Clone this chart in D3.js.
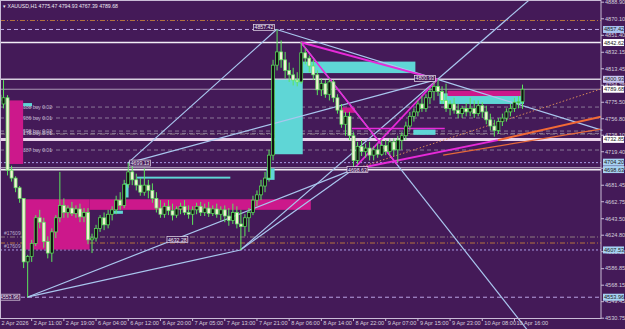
<!DOCTYPE html>
<html>
<head>
<meta charset="utf-8">
<script src="https://cdn.jsdelivr.net/npm/d3@7"></script>
<style>
body { margin: 0; background: #441a58; }
svg { display: block; }
text { font-family: "Liberation Sans", Arial, sans-serif; }
</style>
</head>
<body>
<svg width="625" height="329"></svg>
<script>
// time axis labels, one every 8 bars
var timeLabels = ["2 Apr 2026", "2 Apr 11:00", "2 Apr 19:00", "6 Apr 04:00", "6 Apr 12:00", "6 Apr 20:00",
  "7 Apr 05:00", "7 Apr 13:00", "7 Apr 21:00", "8 Apr 06:00", "8 Apr 14:00", "8 Apr 22:00",
  "9 Apr 07:00", "9 Apr 15:00", "9 Apr 23:00", "10 Apr 08:00", "10 Apr 16:00"];
var priceTicks = [4888.90, 4870.10, 4851.40, 4832.15, 4813.45, 4794.75, 4775.50, 4756.80, 4738.10, 4719.40,
  4700.70, 4681.45, 4662.75, 4643.50, 4624.80, 4606.10, 4586.85, 4568.15, 4549.45, 4530.75];

// XAUUSD H1 bars
var opens = [4783, 4773, 4780, 4698, 4689, 4678, 4666, 4594, 4600, 4615,
  4644, 4639, 4617, 4604, 4628, 4644, 4658, 4650, 4655, 4649,
  4654, 4645, 4650, 4619, 4621, 4632, 4644, 4636, 4648, 4653,
  4664, 4658, 4682, 4696, 4687, 4681, 4673, 4681, 4675, 4666,
  4655, 4648, 4657, 4652, 4647, 4654, 4657, 4650, 4648, 4653,
  4657, 4650, 4655, 4649, 4654, 4648, 4653, 4646, 4641, 4650,
  4637, 4634, 4644, 4650, 4664, 4670, 4680, 4689, 4715, 4817,
  4832, 4823, 4811, 4806, 4800, 4798, 4831, 4825, 4816, 4806,
  4789, 4796, 4784, 4798, 4780, 4766, 4750, 4759, 4737, 4709,
  4725, 4719, 4723, 4715, 4721, 4716, 4726, 4719, 4730, 4721,
  4732, 4737, 4748, 4759, 4764, 4773, 4768, 4780, 4787, 4793,
  4787, 4777, 4768, 4773, 4766, 4762, 4768, 4764, 4768, 4762,
  4771, 4764, 4755, 4748, 4743, 4753, 4757, 4764, 4768, 4775,
  4775.47];
var highs = [4794, 4800, 4783, 4703, 4691, 4680, 4666, 4602, 4619, 4647,
  4653, 4644, 4623, 4632, 4647, 4696, 4666, 4658, 4662, 4658,
  4660, 4655, 4655, 4626, 4636, 4647, 4650, 4653, 4657, 4669,
  4673, 4687, 4706, 4703, 4694, 4689, 4700, 4687, 4683, 4673,
  4664, 4661, 4664, 4660, 4657, 4661, 4664, 4658, 4657, 4661,
  4662, 4660, 4662, 4658, 4660, 4657, 4658, 4655, 4660, 4657,
  4653, 4648, 4655, 4669, 4675, 4687, 4696, 4721, 4823, 4857.4,
  4845, 4832, 4820, 4814, 4809, 4843, 4836, 4828, 4823, 4811,
  4802, 4800, 4802, 4800, 4784, 4773, 4764, 4764, 4741, 4730,
  4732, 4728, 4730, 4725, 4728, 4732, 4732, 4734, 4734, 4737,
  4741, 4753, 4764, 4768, 4777, 4782, 4784, 4791, 4798, 4800.9,
  4793, 4796, 4777, 4780, 4773, 4771, 4774, 4780, 4777, 4777,
  4775, 4771, 4762, 4755, 4757, 4762, 4768, 4773, 4780, 4782,
  4794.93];
var lows = [4766, 4768, 4692, 4685, 4673, 4661, 4587, 4554, 4594, 4612,
  4632, 4610, 4598, 4594, 4621, 4639, 4644, 4644, 4646, 4644,
  4639, 4639, 4614, 4604, 4617, 4628, 4630, 4632, 4641, 4648,
  4653, 4655, 4678, 4681, 4675, 4669, 4669, 4666, 4661, 4650,
  4644, 4644, 4647, 4641, 4644, 4648, 4647, 4643, 4636, 4648,
  4646, 4646, 4645, 4646, 4644, 4641, 4639, 4635, 4637, 4632,
  4607.5, 4623, 4628, 4647, 4657, 4664, 4673, 4685, 4709, 4811,
  4814, 4802, 4798, 4794, 4793, 4796, 4818, 4809, 4800, 4783,
  4782, 4780, 4777, 4775, 4762, 4746, 4737, 4732, 4698.6, 4705,
  4714, 4712, 4709, 4709, 4712, 4714, 4715, 4715, 4714, 4707,
  4721, 4732, 4743, 4753, 4759, 4764, 4764, 4773, 4777, 4782,
  4773, 4764, 4760, 4762, 4757, 4757, 4759, 4759, 4757, 4759,
  4757, 4750, 4743, 4736, 4739, 4748, 4753, 4759, 4764, 4768,
  4767.39];
var closes = [4777, 4780, 4698, 4689, 4678, 4666, 4594, 4600, 4615, 4644,
  4639, 4617, 4604, 4628, 4644, 4658, 4650, 4655, 4649, 4654,
  4645, 4650, 4619, 4621, 4632, 4644, 4636, 4648, 4653, 4664,
  4658, 4682, 4696, 4687, 4681, 4673, 4681, 4675, 4666, 4655,
  4648, 4657, 4652, 4647, 4654, 4657, 4650, 4648, 4653, 4657,
  4650, 4655, 4649, 4654, 4648, 4653, 4646, 4641, 4650, 4637,
  4634, 4644, 4650, 4664, 4670, 4680, 4689, 4715, 4817, 4832,
  4823, 4811, 4806, 4800, 4798, 4831, 4825, 4816, 4806, 4789,
  4796, 4784, 4798, 4780, 4766, 4750, 4759, 4737, 4709, 4725,
  4719, 4723, 4715, 4721, 4716, 4726, 4719, 4730, 4721, 4732,
  4737, 4748, 4759, 4764, 4773, 4768, 4780, 4787, 4793, 4787,
  4777, 4768, 4773, 4766, 4762, 4768, 4764, 4768, 4762, 4771,
  4764, 4755, 4748, 4743, 4753, 4757, 4764, 4768, 4775, 4775.5,
  4789.68];

// horizontal levels
var levelSolidWhite = [4842.62, 4698.63];
var levelSolidGray = [4800.93];
var levelThin = [4789.68, 4701.0];
var levelPink = [4732.85];
var levelOrangeDashDot = [4867.6, 4615.4];
var levelLavenderDash = [4857.42, 4553.96];
var levelLavenderDot = [4706.5, 4607.53];
var levelGrayDashDot = [4622.2, 4738.9];
var buyLevels = [4769.5, 4757.1, 4742.3, 4739.6, 4720.8];
var buyTexts = ["388 buy 0.02", "986 buy 0.01", "598 buy 0.02", "178 buy 0.01", "387 buy 0.01"];
var axisBoxes = [4857.42, 4842.62, 4800.93, 4789.68, 4732.85, 4704.20, 4698.63, 4607.53, 4553.96];

// zigzag pivots [bar, price]
var pivA = [7, 4554.0], pivB = [32, 4706.0], pivC = [60, 4607.5], pivD = [69, 4857.4],
    pivE = [75, 4843.0], pivF = [88, 4698.6], pivG = [109, 4800.9];

var width = 625, height = 329, plotR = 601, plotB = 318;
var svg = d3.select("svg");

var x = d3.scaleLinear().domain([0, 130]).range([-1, 522]);
var y = d3.scaleLinear().domain([4530.75, 4888.90]).range([317.7, 1.7]);

var gLevels = svg.append("g"), gBoxes = svg.append("g"), gLines = svg.append("g"),
    gCandles = svg.append("g"), gTop = svg.append("g"), gAxis = svg.append("g");

function hline(p, color, w, dash) {
  gLevels.append("line").attr("x1", 0).attr("x2", plotR).attr("y1", y(p)).attr("y2", y(p))
    .attr("stroke", color).attr("stroke-width", w).attr("stroke-dasharray", dash || null);
}
levelOrangeDashDot.forEach(function(p) { hline(p, "#b5733e", 1, "5,2,1,2"); });
levelLavenderDash.forEach(function(p) { hline(p, "#b9a3e3", 1, "4,3"); });
levelLavenderDot.forEach(function(p) { hline(p, "#a99ce6", 1, "2,2"); });
levelGrayDashDot.forEach(function(p) { hline(p, "#8e7a7e", 1, "5,2,1,2"); });
buyLevels.forEach(function(p) { hline(p, "#8a7898", 1, "4,3"); });
levelThin.forEach(function(p) { hline(p, "#a897b5", 1); });
levelSolidGray.forEach(function(p) { hline(p, "#d8d0e0", 1.6); });
levelSolidWhite.forEach(function(p) { hline(p, "#f2eef6", 1.6); });
levelPink.forEach(function(p) { hline(p, "#e9d2ea", 3); });

buyTexts.forEach(function(t, i) {
  gLevels.append("text").attr("x", 23).attr("y", y(buyLevels[i]) + 2).attr("font-size", 5)
    .attr("fill", "#c6b8d4").text(t);
});

// zones
function zone(i1, i2, p1, p2, color) {
  gBoxes.append("rect").attr("x", x(i1)).attr("width", x(i2) - x(i1))
    .attr("y", y(p1)).attr("height", y(p2) - y(p1)).attr("fill", color);
}
var pink = "#cc188b", cyan = "#5fd6d6";
zone(2.3, 6, 4777, 4705, pink);
zone(6, 22.5, 4665, 4608, pink);
zone(22.5, 77.5, 4665, 4653, pink);
zone(68.5, 75.5, 4800.5, 4716, cyan);
zone(66.5, 68.5, 4700, 4687, cyan);
zone(75.5, 103.5, 4821, 4808, cyan);
zone(109.5, 130.5, 4785, 4773, cyan);
zone(111.5, 130.5, 4788, 4782, pink);
zone(103, 108.5, 4744, 4738, cyan);
zone(85, 88.5, 4769, 4763, pink);
zone(34.3, 57.5, 4690.6, 4688.4, cyan);
zone(28, 30.8, 4652, 4648.5, cyan);
zone(31, 32.2, 4683, 4667, cyan);
zone(6, 8.2, 4774, 4770.5, cyan);

function seg(a, b, color, w, dash) {
  gLines.append("line").attr("x1", x(a[0])).attr("y1", y(a[1])).attr("x2", x(b[0])).attr("y2", y(b[1]))
    .attr("stroke", color).attr("stroke-width", w).attr("stroke-dasharray", dash || null);
}
function ext(a, b, toBar) {
  var k = (b[1] - a[1]) / (b[0] - a[0]);
  return [toBar, a[1] + k * (toBar - a[0])];
}
var blue = "#a9c6ee", magenta = "#e62ad8";
seg(pivA, pivC, blue, 1.2);
seg(pivA, pivF, blue, 1.2);
seg(pivB, pivD, blue, 1.2);
seg(pivB, pivG, blue, 1.2);
seg(pivC, pivF, blue, 1.2);
seg(pivC, ext(pivC, pivG, 140), blue, 1.2);
seg(pivD, pivG, blue, 1.2);
seg(pivG, ext(pivD, pivG, 150), blue, 1.2);
seg(pivE, ext(pivE, [99, 4704], 140), blue, 1.2);
seg(pivE, pivG, magenta, 2);
seg(pivE, [99, 4704], magenta, 1.6);
seg(pivF, pivG, magenta, 1.6);
seg(pivF, [124, 4732], magenta, 2);
seg([87.7, 4745.2], [110.8, 4745.2], magenta, 1.6);
seg([124, 4732], [149.6, 4758.5], "#f26a36", 2);
seg([110.4, 4715], [149.6, 4744.6], "#e6693a", 1.3);
seg(pivF, [149.6, 4790], "#d88a58", 1, "1.5,2");

// candles
var bars = d3.range(closes.length);
gCandles.selectAll("line").data(bars).enter().append("line")
  .attr("x1", function(i) { return x(i) + 0.5; })
  .attr("x2", function(i) { return x(i) + 0.5; })
  .attr("y1", function(i) { return y(highs[i]); })
  .attr("y2", function(i) { return y(lows[i]); })
  .attr("stroke", "#5ce65c").attr("stroke-width", 1);
gCandles.selectAll("rect").data(bars).enter().append("rect")
  .attr("x", function(i) { return x(i) - 1; })
  .attr("width", 3)
  .attr("y", function(i) { return y(Math.max(opens[i], closes[i])); })
  .attr("height", function(i) { return Math.max(1, Math.abs(y(opens[i]) - y(closes[i]))); })
  .attr("fill", function(i) { return closes[i] >= opens[i] ? "#111" : "#f3f1d6"; })
  .attr("stroke", "#5ce65c").attr("stroke-width", 0.7);

// frame
gAxis.append("rect").attr("x", 0.5).attr("y", 0.5).attr("width", plotR - 0.5).attr("height", plotB)
  .attr("fill", "none").attr("stroke", "#c9bcd6").attr("stroke-width", 1);

// right axis
var yAxis = d3.axisRight(y).tickValues(priceTicks).tickSize(3).tickFormat(d3.format(".2f"));
var ya = gAxis.append("g").attr("transform", "translate(" + plotR + ",0)").call(yAxis);
ya.select(".domain").remove();
ya.selectAll("line").attr("stroke", "#c9bcd6");
ya.selectAll("text").attr("font-size", 5.6).attr("fill", "#d6cfdd").attr("x", 4)
  .attr("font-family", "Liberation Sans, Arial, sans-serif");

var boxFill = ["#a8c2ef", "#ffffff", "#c9c6f2", "#ffffff", "#ffffff", "#a6d2f2", "#a6d2f2", "#a6d2f2", "#a6d2f2"];
var boxNudge = [0, 0, 0, 0, 0, -2.5, 0, 0, 0];
axisBoxes.forEach(function(p, i) {
  var cy = y(p) + boxNudge[i];
  gAxis.append("rect").attr("x", plotR + 2).attr("y", cy - 3.5).attr("width", 21).attr("height", 7).attr("fill", boxFill[i]);
  gAxis.append("text").attr("x", plotR + 3).attr("y", cy + 2).attr("font-size", 5.6).attr("fill", "#222").text(p.toFixed(2));
});

// bottom axis
var xAxis = d3.axisBottom(x).tickValues(d3.range(0, 129, 8)).tickSize(3)
  .tickFormat(function(d, i) { return timeLabels[i]; });
var xa = gAxis.append("g").attr("transform", "translate(0," + plotB + ")").call(xAxis);
xa.select(".domain").remove();
xa.selectAll("line").attr("stroke", "#c9bcd6");
xa.selectAll("text").attr("font-size", 5.6).attr("fill", "#d6cfdd").attr("text-anchor", "start").attr("x", 2).attr("dy", "0.2em")
  .attr("font-family", "Liberation Sans, Arial, sans-serif");

// pivot labels
function tag(bar, p, t, dx, dy) {
  var g = gTop.append("g");
  var tx = g.append("text").attr("x", x(bar) + dx).attr("y", y(p) + dy).attr("font-size", 5.2).attr("fill", "#f0ecf4").text(t);
  var b = tx.node().getBBox();
  g.insert("rect", "text").attr("x", b.x - 1).attr("y", b.y).attr("width", b.width + 2).attr("height", b.height)
    .attr("fill", "#441a58").attr("stroke", "#e8e2ee").attr("stroke-width", 0.7);
}
tag(pivD[0], pivD[1], "4857.42", -22, 0);
tag(pivB[0], pivB[1], "4699.13", 3, 2);
tag(pivF[0], pivF[1], "4698.63", -5, 2);
tag(pivG[0], pivG[1], "4800.93", -22, 1);
tag(42, 4617, "4632.28", 0, 0);
tag(0, pivA[1], "4553.96", 1, 2);

gTop.append("text").attr("x", 3).attr("y", 8).attr("font-size", 5.2).attr("fill", "#eeeaf2")
  .text("\u25BE XAUUSD,H1  4775.47 4794.93 4767.39 4789.68");
gTop.append("text").attr("x", 4).attr("y", y(4624.5)).attr("font-size", 5).attr("fill", "#b8aac8").text("#17609");
gTop.append("text").attr("x", 4).attr("y", y(4609.5)).attr("font-size", 5).attr("fill", "#b8aac8").text("#17609");
</script>
</body>
</html>
